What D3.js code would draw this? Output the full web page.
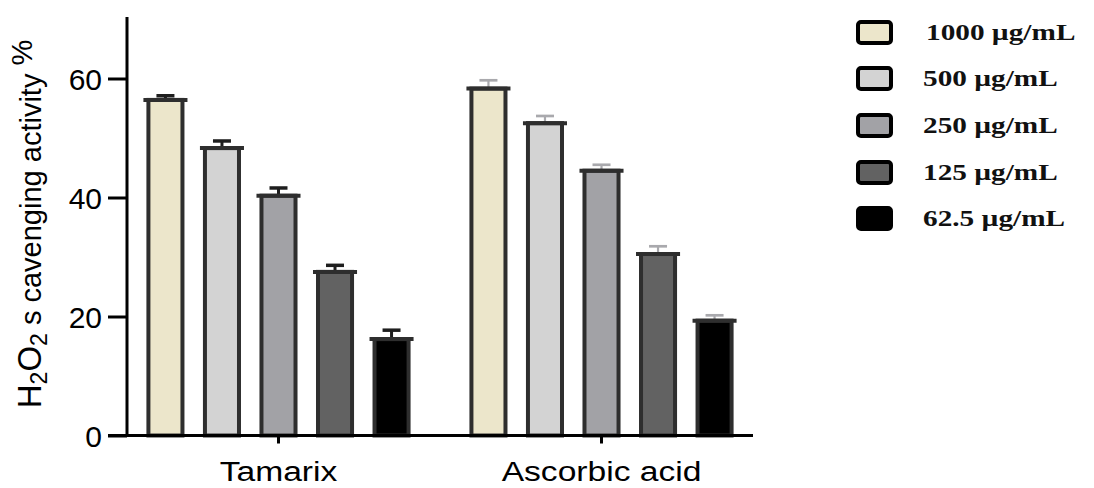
<!DOCTYPE html>
<html>
<head>
<meta charset="utf-8">
<script src="https://cdn.jsdelivr.net/npm/d3@7"></script>
<style>
  html, body { margin: 0; padding: 0; background: #fff; }
  svg { display: block; }
</style>
</head>
<body>
<svg id="chart" width="1094" height="488"></svg>
<script>
// Extracts tested and concentrations
const groups = ["Tamarix", "Ascorbic acid"];
const concentrations = ["1000 µg/mL", "500 µg/mL", "250 µg/mL", "125 µg/mL", "62.5 µg/mL"];
// Mean H2O2 scavenging activity (%) per concentration
const tamarixValues = [56.4, 48.3, 40.3, 27.5, 16.2];
const ascorbicValues = [58.3, 52.5, 44.5, 30.5, 19.3];
// Error (SD) per concentration
const tamarixErrors = [0.7, 1.2, 1.3, 1.1, 1.5];
const ascorbicErrors = [1.4, 1.2, 1.0, 1.3, 0.9];
const yTicks = [0, 20, 40, 60];

const fills = ["#ece6cb", "#d3d3d3", "#a2a2a6", "#626262", "#000000"];
const sansFont = "Liberation Sans, Arial, sans-serif";
const serifFont = "Liberation Serif, Times New Roman, serif";

const svg = d3.select("#chart");

const y = d3.scaleLinear().domain([0, 70]).range([435.5, 19]);
const x0 = d3.scaleBand().domain(groups).range([127, 753])
  .paddingInner(0.125).paddingOuter(0.0315);
const x1 = d3.scaleBand().domain(concentrations).range([0, x0.bandwidth()])
  .paddingInner(0.327).paddingOuter(0.1635);
const color = d3.scaleOrdinal().domain(concentrations).range(fills);

const data = groups.map((g, gi) => ({
  group: g,
  values: concentrations.map((c, ci) => ({
    conc: c,
    value: gi === 0 ? tamarixValues[ci] : ascorbicValues[ci],
    err: gi === 0 ? tamarixErrors[ci] : ascorbicErrors[ci]
  }))
}));

const sw = 4;
const gGroups = svg.selectAll("g.grp").data(data).join("g")
  .attr("class", "grp")
  .attr("transform", d => `translate(${x0(d.group)},0)`);

gGroups.each(function (gd, gi) {
  const g = d3.select(this);
  const errColor = gi === 0 ? "#1e1e1e" : "#a9a9ad";
  const errWidth = gi === 0 ? 3 : 2.2;
  gd.values.forEach(d => {
    const bx = x1(d.conc) + sw / 2;
    const bw = x1.bandwidth() - sw;
    const cx = x1(d.conc) + x1.bandwidth() / 2;
    // error bar (upper only)
    g.append("line")
      .attr("x1", cx).attr("x2", cx)
      .attr("y1", y(d.value)).attr("y2", y(d.value + d.err))
      .attr("stroke", errColor).attr("stroke-width", errWidth);
    g.append("line")
      .attr("x1", cx - 9).attr("x2", cx + 9)
      .attr("y1", y(d.value + d.err)).attr("y2", y(d.value + d.err))
      .attr("stroke", errColor).attr("stroke-width", errWidth + 0.5);
    // bar
    g.append("rect")
      .attr("x", bx).attr("width", bw)
      .attr("y", y(d.value)).attr("height", y(0) - y(d.value))
      .attr("fill", color(d.conc))
      .attr("stroke", "#2e2e2e").attr("stroke-width", sw);
    // widened top edge
    g.append("line")
      .attr("x1", bx - 5).attr("x2", bx + bw + 5)
      .attr("y1", y(d.value)).attr("y2", y(d.value))
      .attr("stroke", "#2e2e2e").attr("stroke-width", sw);
  });
});

// Y axis
const yAxis = d3.axisLeft(y).tickValues(yTicks).tickSize(19).tickPadding(6);
const gy = svg.append("g").attr("transform", "translate(127,0)").call(yAxis);
gy.select(".domain").attr("d", `M0,${y(0) + 1.5}V17`);
gy.selectAll("path, line").attr("stroke", "#000").attr("stroke-width", 3);
gy.selectAll("text").attr("font-family", sansFont)
  .attr("font-size", 30).attr("fill", "#000").attr("dy", "0.36em");

// X axis
const xAxis = d3.axisBottom(x0).tickSize(8).tickPadding(0);
const gx = svg.append("g").attr("transform", `translate(0,${y(0)})`).call(xAxis);
gx.select(".domain").attr("d", "M108,0H753");
gx.selectAll("path, line").attr("stroke", "#000").attr("stroke-width", 3);
gx.selectAll("text").attr("font-family", sansFont)
  .attr("font-size", 28).attr("fill", "#000")
  .attr("y", 0).attr("dy", null)
  .attr("transform", "translate(0,45) scale(1.2,1)");

// Y axis title
const yt = svg.append("text")
  .attr("transform", `translate(41,224) rotate(-90)`)
  .attr("text-anchor", "middle")
  .attr("font-family", sansFont)
  .attr("font-size", 33).attr("fill", "#000");
yt.append("tspan").text("H");
yt.append("tspan").attr("font-size", 23).attr("dy", 6).text("2");
yt.append("tspan").attr("dy", -6).text("O");
yt.append("tspan").attr("font-size", 23).attr("dy", 6).text("2");
yt.append("tspan").attr("dy", -6).attr("font-size", 29).text(" s cavenging activity ");
yt.append("tspan").attr("dy", -9).attr("font-size", 29).text("%");

// Legend
const legend = svg.append("g").attr("transform", "translate(858,0)");
const rowY = [32, 78, 125, 172, 218];
concentrations.forEach((c, i) => {
  legend.append("rect")
    .attr("x", 0).attr("y", rowY[i] - 10).attr("width", 33).attr("height", 21)
    .attr("rx", 3)
    .attr("fill", color(c)).attr("stroke", "#000").attr("stroke-width", 4);
  legend.append("text")
    .attr("transform", `translate(${i === 0 ? 68 : 65},${rowY[i] + 8}) scale(1.22,1)`)
    .attr("font-family", serifFont)
    .attr("font-weight", "bold").attr("font-size", 24).attr("fill", "#111")
    .text(c);
});
</script>
</body>
</html>
